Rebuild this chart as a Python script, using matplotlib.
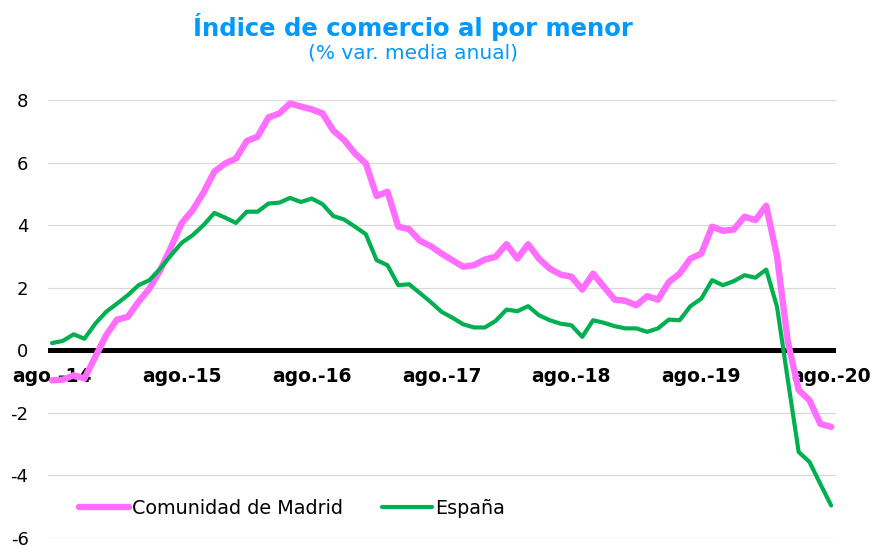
import numpy as np
import matplotlib
matplotlib.use("Agg")
import matplotlib.pyplot as plt

# Monthly data, ago.-14 ... ago.-20 (% var. media anual)
madrid = [-0.96, -0.94, -0.80, -0.90, -0.21, 0.48, 0.98, 1.07, 1.55, 1.97,
          2.56, 3.30, 4.07, 4.48, 5.04, 5.71, 5.97, 6.13, 6.69, 6.83,
          7.44, 7.57, 7.89, 7.79, 7.70, 7.57, 7.02, 6.72, 6.29, 5.97,
          4.93, 5.07, 3.95, 3.87, 3.50, 3.33, 3.09, 2.88, 2.67, 2.72,
          2.90, 2.99, 3.39, 2.93, 3.39, 2.93, 2.61, 2.42, 2.35, 1.94,
          2.45, 2.03, 1.62, 1.58, 1.44, 1.73, 1.62, 2.18, 2.45, 2.93,
          3.09, 3.95, 3.82, 3.86, 4.27, 4.16, 4.62, 3.00, 0.27, -1.27,
          -1.60, -2.35, -2.45]
espana = [0.23, 0.30, 0.51, 0.37, 0.85, 1.23, 1.49, 1.76, 2.08, 2.24,
          2.61, 3.04, 3.44, 3.68, 4.00, 4.39, 4.24, 4.07, 4.43, 4.43,
          4.69, 4.72, 4.87, 4.74, 4.85, 4.67, 4.29, 4.18, 3.95, 3.71,
          2.88, 2.72, 2.08, 2.11, 1.83, 1.54, 1.23, 1.04, 0.83, 0.73,
          0.73, 0.94, 1.30, 1.25, 1.41, 1.12, 0.96, 0.85, 0.80, 0.43,
          0.96, 0.88, 0.77, 0.70, 0.70, 0.59, 0.70, 0.98, 0.96, 1.41,
          1.65, 2.24, 2.08, 2.21, 2.40, 2.32, 2.58, 1.39, -0.95, -3.25,
          -3.57, -4.27, -4.96]
tick_labels = ['ago.-14', 'ago.-15', 'ago.-16', 'ago.-17', 'ago.-18', 'ago.-19', 'ago.-20']
yticks = [-6, -4, -2, 0, 2, 4, 6, 8]

PINK = '#ff6eff'
GREEN = '#00b050'
BLUE = '#0099ff'

plt.rcParams['font.family'] = 'DejaVu Sans'

fig = plt.figure(figsize=(8.72, 5.47), dpi=100)
ax = fig.add_axes([48 / 872, 1 - 538 / 547, 788 / 872, 438 / 547])

x = np.arange(len(madrid))
ax.plot(x, madrid, color=PINK, lw=4.6, solid_capstyle='round', solid_joinstyle='round',
        label='Comunidad de Madrid', zorder=3)
ax.plot(x, espana, color=GREEN, lw=3.0, solid_capstyle='round', solid_joinstyle='round',
        label='España', zorder=4)

ax.axhline(0, color='black', lw=3.6, zorder=2)

for s in ['top', 'right', 'left', 'bottom']:
    ax.spines[s].set_visible(False)
# category labels sit just under the zero line
ax.spines['bottom'].set_position(('data', 0))

ax.set_ylim(-6, 8)
ax.set_xlim(-0.37, 72.45)
ax.set_yticks(yticks)
ax.set_yticklabels([str(v) for v in yticks])
ax.yaxis.grid(True, color='#d9d9d9', lw=0.9)
ax.set_axisbelow(True)
ax.tick_params(axis='y', length=0, pad=14, labelsize=13)

ax.set_xticks(x[::12])
ax.set_xticklabels(tick_labels)
ax.tick_params(axis='x', length=0, pad=12, labelsize=13.5)
for lbl in ax.get_xticklabels():
    lbl.set_fontweight('bold')

ax.legend(loc='center left', bbox_to_anchor=(0.039, 0.068), ncol=2, frameon=False,
          fontsize=13.8, handlelength=2.6, handletextpad=0.2, columnspacing=2.0,
          borderpad=0, borderaxespad=0)

fig.text(413 / 872, 1 - 27 / 547, 'Índice de comercio al por menor', color=BLUE,
         fontsize=17.5, fontweight='bold', ha='center', va='center')
fig.text(413 / 872, 1 - 53 / 547, '(% var. media anual)', color=BLUE,
         fontsize=14.5, ha='center', va='center')

fig.savefig('out.png', dpi=100)
